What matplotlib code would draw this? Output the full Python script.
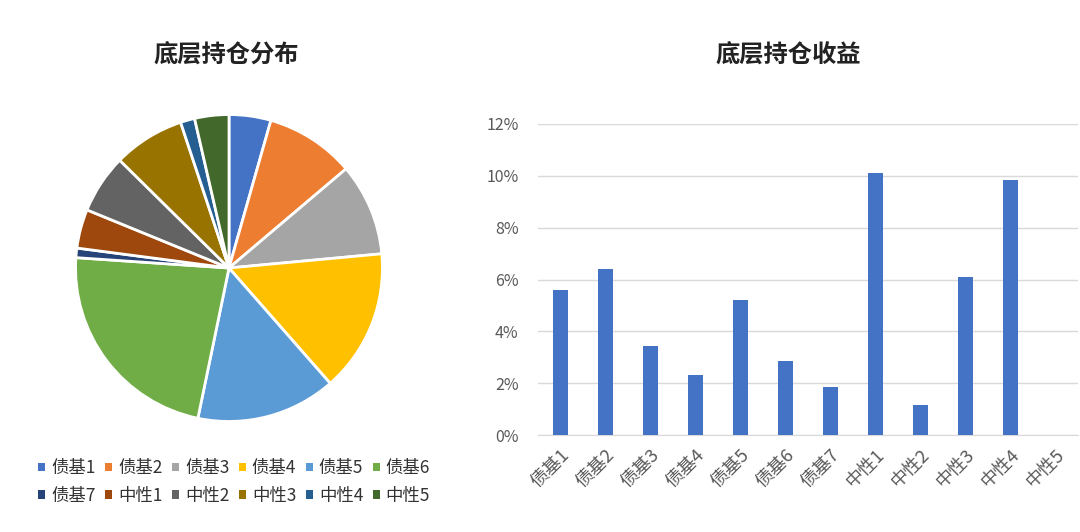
import matplotlib
matplotlib.use("Agg")
from matplotlib import pyplot as plt
from matplotlib.patches import Patch
from matplotlib.ticker import PercentFormatter

plt.rcParams['font.family'] = ['Noto Sans CJK SC', 'DejaVu Sans']

# holdings distribution (pie) and returns (bar)
names = ['债基1', '债基2', '债基3', '债基4', '债基5', '债基6', '债基7',
         '中性1', '中性2', '中性3', '中性4', '中性5']
weights = [4.4, 9.4, 9.7, 15.0, 14.7, 22.8, 1.0, 4.1, 6.2, 7.5, 1.5, 3.6]
returns = [5.6, 6.4, 3.45, 2.3, 5.2, 2.85, 1.85, 10.1, 1.15, 6.1, 9.85, 0.0]
yticks = [0, 2, 4, 6, 8, 10, 12]

colors = ['#4472C4', '#ED7D31', '#A5A5A5', '#FFC000', '#5B9BD5', '#70AD47',
          '#264478', '#9E480E', '#636363', '#997300', '#255E91', '#43682B']

fig = plt.figure(figsize=(10.8, 5.32), dpi=100)

# pie
ax1 = fig.add_axes([74/1080, (532-268-155)/532, 310/1080, 310/532])
ax1.pie(weights, colors=colors, startangle=90, counterclock=False,
        wedgeprops=dict(edgecolor='white', linewidth=2))
ax1.set_xlim(-1.01, 1.01)
ax1.set_ylim(-1.01, 1.01)
ax1.set_aspect('equal')
fig.text(226/1080, 1-55/532, '底层持仓分布', ha='center', va='center',
         fontsize=17.5, fontweight='bold', color='#222222')

# legend is filled column by column, so reorder to read row by row
ncol = 6
order = [r * ncol + c for c in range(ncol) for r in range(2)]
handles = [Patch(facecolor=colors[i], edgecolor='none') for i in order]
labels = [names[i] for i in order]
fig.legend(handles, labels, ncol=ncol, loc='center', bbox_to_anchor=(234/1080, 1-482/532),
           frameon=False, fontsize=12.5, handlelength=0.4, handleheight=0.4,
           handletextpad=0.35, columnspacing=0.55, labelspacing=0.55,
           labelcolor='#333333')

# bars
ax2 = fig.add_axes([538/1080, (532-435)/532, 540/1080, 311/532])
x = range(len(names))
ax2.bar(x, returns, width=0.33, color='#4472C4', zorder=3)
ax2.set_xlim(-0.5, len(names) - 0.5)
ax2.set_ylim(0, 12)
ax2.set_yticks(yticks)
ax2.yaxis.set_major_formatter(PercentFormatter(decimals=0))
ax2.set_xticks(list(x))
ax2.set_xticklabels(names, rotation=45, ha='right', rotation_mode='anchor', fontsize=13)
ax2.grid(axis='y', color='#D9D9D9', linewidth=1, zorder=0)
for s in ['top', 'right', 'left']:
    ax2.spines[s].set_visible(False)
ax2.spines['bottom'].set_color('#D9D9D9')
ax2.tick_params(axis='both', length=0, labelcolor='#595959')
ax2.tick_params(axis='y', pad=14, labelsize=11.5)
ax2.tick_params(axis='x', pad=8)
fig.text(788/1080, 1-55/532, '底层持仓收益', ha='center', va='center',
         fontsize=17.5, fontweight='bold', color='#222222')

fig.savefig('out.png', dpi=100, facecolor='white')
